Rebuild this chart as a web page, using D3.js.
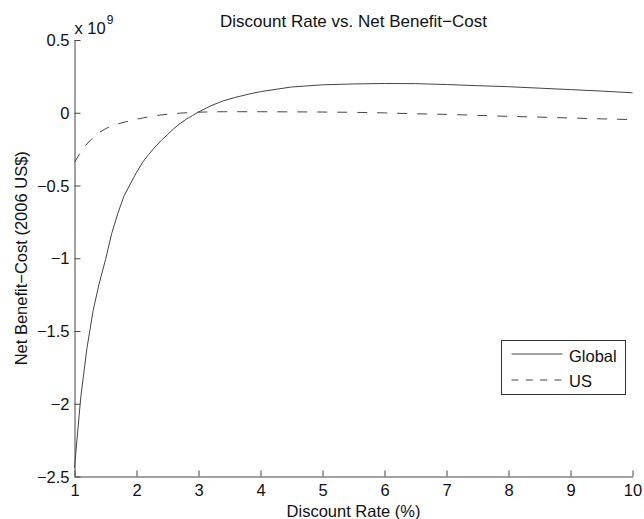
<!DOCTYPE html>
<html>
<head>
<meta charset="utf-8">
<script src="https://cdn.jsdelivr.net/npm/d3@7"></script>
<style>
  html, body { margin: 0; padding: 0; background: #fff; }
  svg { display: block; }
  text { font-family: "Liberation Sans", Arial, sans-serif; fill: #111; }
</style>
</head>
<body>
<svg id="chart" width="644" height="519"></svg>
<script>
// Discount rate (%) sampled along the x axis
const discountRate = [1.0, 1.1, 1.2, 1.3, 1.4, 1.5, 1.6, 1.7, 1.8, 1.9,
  2.0, 2.1, 2.2, 2.3, 2.4, 2.5, 2.6, 2.7, 2.8, 2.9,
  3.0, 3.2, 3.4, 3.6, 3.8, 4.0, 4.5, 5.0, 5.5, 6.0,
  6.5, 7.0, 7.5, 8.0, 8.5, 9.0, 9.5, 10.0];

// Net benefit minus cost, in units of 10^9 (2006 US$)
const globalNet = [-2.44, -1.96, -1.62, -1.36, -1.17, -1.01, -0.83, -0.69, -0.57, -0.49,
  -0.41, -0.34, -0.285, -0.235, -0.19, -0.15, -0.11, -0.075, -0.045, -0.02,
  0.005, 0.048, 0.082, 0.106, 0.127, 0.145, 0.177, 0.192, 0.198, 0.201,
  0.200, 0.194, 0.186, 0.179, 0.169, 0.159, 0.149, 0.137];

const usNet = [-0.34, -0.27, -0.215, -0.17, -0.135, -0.11, -0.09, -0.077, -0.065, -0.055,
  -0.045, -0.036, -0.028, -0.021, -0.015, -0.01, -0.006, -0.003, 0.0, 0.002,
  0.004, 0.006, 0.007, 0.007, 0.007, 0.007, 0.006, 0.005, 0.003, -0.001,
  -0.007, -0.011, -0.018, -0.025, -0.030, -0.036, -0.042, -0.047];

const xTicks = [1, 2, 3, 4, 5, 6, 7, 8, 9, 10];
const yTicks = [0.5, 0, -0.5, -1, -1.5, -2, -2.5];
const seriesNames = ["Global", "US"];

const svg = d3.select("#chart");
const plotLeft = 74.5, plotRight = 632.5, plotTop = 40, plotBottom = 476.5;
const ink = "#444";

const x = d3.scaleLinear().domain([1, 10]).range([plotLeft, plotRight]);
const y = d3.scaleLinear().domain([-2.5, 0.5]).range([plotBottom, plotTop]);

// Axes with inward ticks, no box
const xAxis = d3.axisBottom(x).tickValues(xTicks).tickSizeInner(-6).tickSizeOuter(0)
  .tickPadding(10).tickFormat(d3.format("d"));
const yAxis = d3.axisLeft(y).tickValues(yTicks).tickSizeInner(-6).tickSizeOuter(0)
  .tickPadding(10).tickFormat(d3.format("~g"));

const gx = svg.append("g").attr("transform", `translate(0,${plotBottom})`).call(xAxis);
const gy = svg.append("g").attr("transform", `translate(${plotLeft},0)`).call(yAxis);
[gx, gy].forEach(g => {
  g.select(".domain").attr("stroke", ink).attr("stroke-width", 1);
  g.selectAll(".tick line").attr("stroke", ink).attr("stroke-width", 1);
  g.selectAll(".tick text").attr("font-size", "16.5px")
    .attr("font-family", "'Liberation Sans', Arial, sans-serif").attr("fill", "#111");
});
gx.selectAll(".tick text").attr("dy", "0.71em").attr("y", 8);
gy.selectAll(".tick text").attr("x", -5).attr("dy", "0.34em");

// Exponent marker above the y axis
const expo = svg.append("text").attr("x", plotLeft).attr("y", 33.5).attr("font-size", "16.5px");
expo.append("tspan").text("x 10");
expo.append("tspan").attr("font-size", "12px").attr("dy", -9.5).attr("dx", 1).text("9");

// Series lines
const line = d3.line().x((d, i) => x(discountRate[i])).y(d => y(d));
svg.append("path").datum(globalNet).attr("d", line)
  .attr("fill", "none").attr("stroke", ink).attr("stroke-width", 1);
svg.append("path").datum(usNet).attr("d", line)
  .attr("fill", "none").attr("stroke", ink).attr("stroke-width", 1)
  .attr("stroke-dasharray", "10,10");

// Title and axis labels
svg.append("text").attr("x", (plotLeft + plotRight) / 2).attr("y", 27)
  .attr("text-anchor", "middle").attr("font-size", "17px")
  .text("Discount Rate vs. Net Benefit\u2212Cost");
svg.append("text").attr("x", (plotLeft + plotRight) / 2).attr("y", 517)
  .attr("text-anchor", "middle").attr("font-size", "16.5px")
  .text("Discount Rate (%)");
svg.append("text").attr("transform", `translate(26.5,${(plotTop + plotBottom) / 2}) rotate(-90)`)
  .attr("text-anchor", "middle").attr("font-size", "16.5px")
  .text("Net Benefit\u2212Cost (2006 US$)");

// Legend
const lg = svg.append("g");
lg.append("rect").attr("x", 501.5).attr("y", 340.5).attr("width", 124).attr("height", 54)
  .attr("fill", "#fff").attr("stroke", "#333").attr("stroke-width", 1);
const legendRows = [
  { name: seriesNames[0], ly: 354, ty: 361.7, dash: null },
  { name: seriesNames[1], ly: 380, ty: 386.5, dash: "7,7.3" }
];
legendRows.forEach(r => {
  const l = lg.append("line").attr("x1", 511.5).attr("x2", 562.5)
    .attr("y1", r.ly).attr("y2", r.ly).attr("stroke", ink).attr("stroke-width", 1);
  if (r.dash) l.attr("stroke-dasharray", r.dash);
  lg.append("text").attr("x", 569).attr("y", r.ty).attr("font-size", "16.5px").text(r.name);
});
</script>
</body>
</html>
